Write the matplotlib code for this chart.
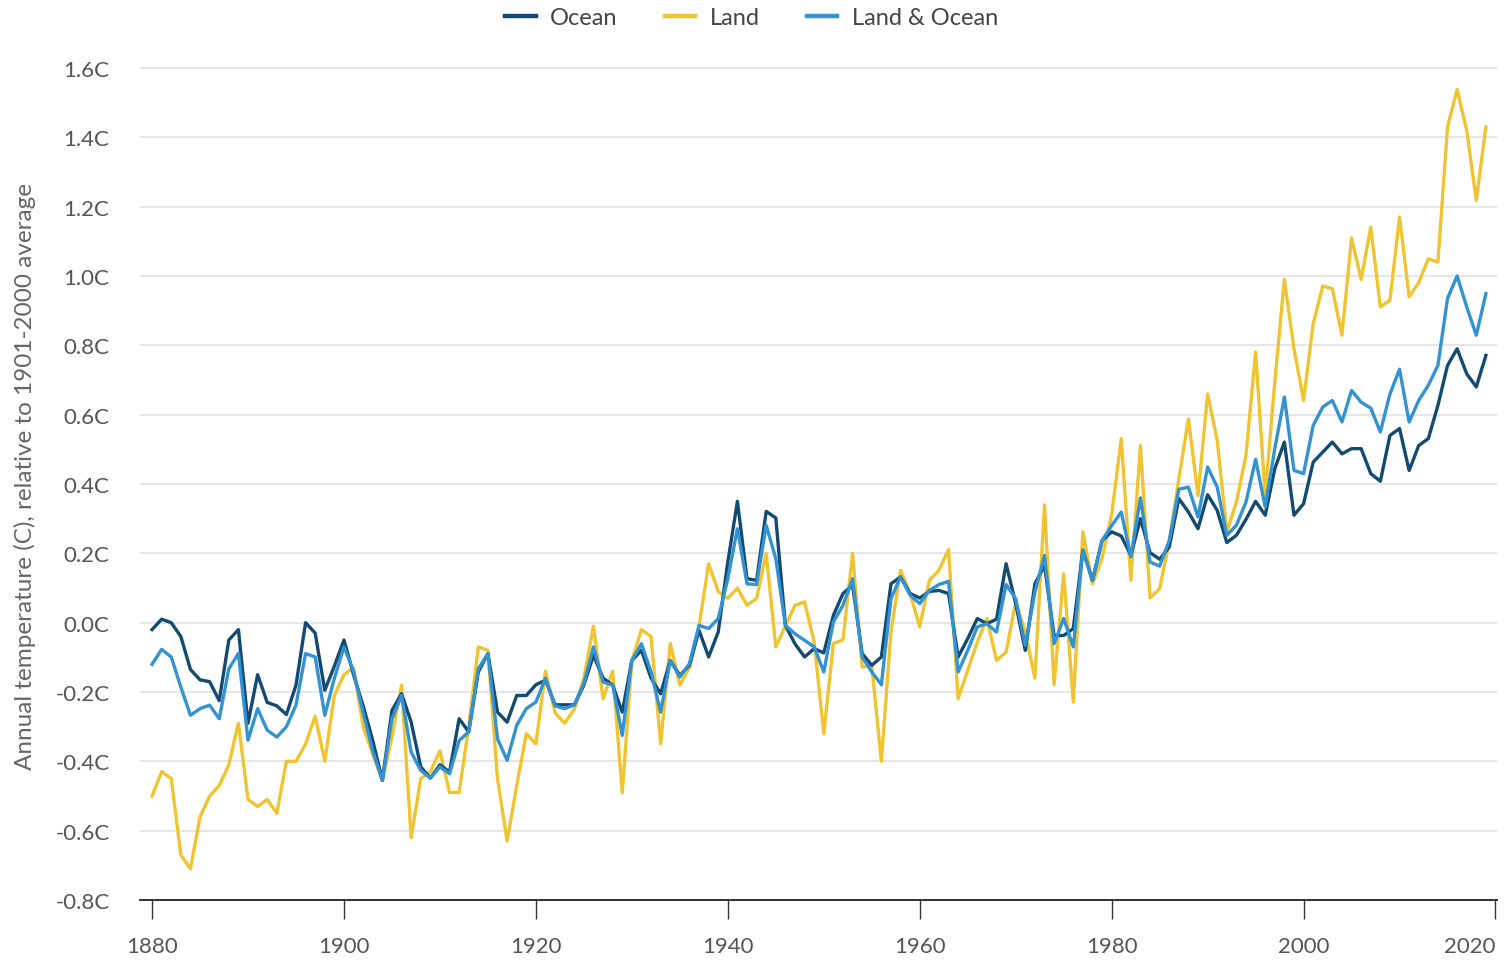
import numpy as np
import matplotlib
matplotlib.use("Agg")
import matplotlib.pyplot as plt

# annual anomalies, 1880-2019, relative to 1901-2000 average
years = np.arange(1880, 2020)

ocean = [
    -0.02, 0.01, 0.00, -0.04, -0.135, -0.165, -0.17, -0.225, -0.05, -0.02,
    -0.29, -0.15, -0.23, -0.24, -0.265, -0.18, 0.00, -0.03, -0.195, -0.125,
    -0.05, -0.15, -0.24, -0.34, -0.455, -0.253, -0.205, -0.287, -0.416, -0.448,
    -0.41, -0.431, -0.277, -0.315, -0.142, -0.089, -0.258, -0.287, -0.21, -0.21,
    -0.179, -0.166, -0.237, -0.237, -0.237, -0.18, -0.094, -0.16, -0.18, -0.258,
    -0.109, -0.08, -0.16, -0.205, -0.109, -0.152, -0.123, -0.022, -0.099, -0.027,
    0.175, 0.35, 0.127, 0.122, 0.321, 0.302, -0.008, -0.061, -0.099, -0.075,
    -0.087, 0.021, 0.084, 0.108, -0.089, -0.123, -0.099, 0.112, 0.132, 0.084,
    0.071, 0.09, 0.093, 0.084, -0.099, -0.046, 0.012, -0.003, 0.01, 0.17,
    0.055, -0.08, 0.112, 0.165, -0.037, -0.037, -0.017, 0.209, 0.122, 0.237,
    0.262, 0.25, 0.194, 0.30, 0.202, 0.183, 0.218, 0.358, 0.319, 0.271,
    0.369, 0.324, 0.231, 0.252, 0.298, 0.35, 0.31, 0.444, 0.521, 0.31,
    0.343, 0.463, 0.492, 0.521, 0.487, 0.502, 0.502, 0.43, 0.408, 0.54,
    0.56, 0.439, 0.511, 0.531, 0.627, 0.742, 0.79, 0.718, 0.68, 0.771,
]

land = [
    -0.50, -0.43, -0.45, -0.67, -0.71, -0.56, -0.50, -0.47, -0.41, -0.29,
    -0.51, -0.53, -0.51, -0.55, -0.40, -0.40, -0.35, -0.27, -0.40, -0.21,
    -0.15, -0.13, -0.30, -0.38, -0.455, -0.33, -0.18, -0.62, -0.45, -0.43,
    -0.37, -0.49, -0.49, -0.30, -0.07, -0.08, -0.45, -0.63, -0.47, -0.32,
    -0.35, -0.14, -0.26, -0.29, -0.25, -0.16, -0.01, -0.22, -0.14, -0.49,
    -0.11, -0.02, -0.04, -0.35, -0.06, -0.18, -0.13, -0.01, 0.17, 0.09,
    0.07, 0.10, 0.05, 0.07, 0.20, -0.07, -0.01, 0.05, 0.06, -0.056,
    -0.32, -0.06, -0.05, 0.20, -0.128, -0.123, -0.40, -0.027, 0.151, 0.084,
    -0.012, 0.122, 0.151, 0.211, -0.219, -0.137, -0.056, 0.012, -0.109, -0.085,
    0.06, -0.027, -0.16, 0.34, -0.179, 0.141, -0.229, 0.262, 0.112, 0.185,
    0.312, 0.531, 0.122, 0.511, 0.071, 0.098, 0.233, 0.415, 0.588, 0.367,
    0.66, 0.526, 0.262, 0.348, 0.483, 0.781, 0.367, 0.694, 0.99, 0.79,
    0.641, 0.862, 0.971, 0.963, 0.829, 1.11, 0.99, 1.141, 0.911, 0.93,
    1.17, 0.94, 0.981, 1.05, 1.04, 1.43, 1.538, 1.42, 1.218, 1.43,
]

land_ocean = [
    -0.12, -0.077, -0.099, -0.186, -0.267, -0.248, -0.238, -0.277, -0.133, -0.089,
    -0.339, -0.248, -0.31, -0.33, -0.30, -0.238, -0.089, -0.099, -0.267, -0.16,
    -0.07, -0.14, -0.26, -0.37, -0.455, -0.277, -0.21, -0.373, -0.426, -0.448,
    -0.416, -0.436, -0.34, -0.315, -0.133, -0.089, -0.335, -0.397, -0.296, -0.248,
    -0.229, -0.16, -0.24, -0.248, -0.237, -0.175, -0.07, -0.171, -0.18, -0.325,
    -0.109, -0.061, -0.142, -0.258, -0.109, -0.157, -0.118, -0.008, -0.017, 0.012,
    0.127, 0.271, 0.112, 0.11, 0.281, 0.185, -0.008, -0.032, -0.051, -0.07,
    -0.142, 0.002, 0.05, 0.127, -0.099, -0.142, -0.179, 0.069, 0.132, 0.079,
    0.055, 0.093, 0.11, 0.119, -0.142, -0.08, -0.012, -0.003, -0.027, 0.11,
    0.069, -0.065, 0.088, 0.194, -0.061, 0.012, -0.07, 0.209, 0.122, 0.237,
    0.28, 0.319, 0.19, 0.36, 0.175, 0.163, 0.237, 0.385, 0.391, 0.305,
    0.449, 0.391, 0.252, 0.281, 0.348, 0.471, 0.334, 0.502, 0.651, 0.439,
    0.43, 0.569, 0.622, 0.641, 0.579, 0.67, 0.636, 0.619, 0.55, 0.66,
    0.731, 0.579, 0.641, 0.685, 0.742, 0.935, 1.0, 0.911, 0.829, 0.949,
]

x_ticks = [1880, 1900, 1920, 1940, 1960, 1980, 2000, 2020]
y_ticks = [-0.8, -0.6, -0.4, -0.2, 0.0, 0.2, 0.4, 0.6, 0.8, 1.0, 1.2, 1.4, 1.6]
y_labels = ["%.1fC" % v for v in y_ticks]

plt.rcParams['font.family'] = ['Lato', 'DejaVu Sans']

fig = plt.figure(figsize=(15.06, 9.62), dpi=100)
ax = fig.add_axes([0.093, 0.0634, 0.9013, 0.8829])

ax.plot(years, ocean, color='#134a72', lw=2.4, label='Ocean', zorder=3)
ax.plot(years, land, color='#f0c431', lw=2.4, label='Land', zorder=2)
ax.plot(years, land_ocean, color='#3392d1', lw=2.4, label='Land & Ocean', zorder=4)

ax.set_xlim(1878.75, 2020.2)
ax.set_ylim(-0.8, 1.65)
ax.set_xticks(x_ticks)
ax.set_yticks(y_ticks)
ax.set_yticklabels(y_labels)
ax.grid(axis='y', color='#e4e4e4', lw=1.3)
ax.set_axisbelow(True)

for s in ['top', 'right', 'left']:
    ax.spines[s].set_visible(False)
ax.spines['bottom'].set_color('#333333')
ax.spines['bottom'].set_linewidth(1.4)
ax.spines['bottom'].set_zorder(5)

ax.tick_params(axis='x', length=14, width=1, color='#333333', pad=12,
               labelsize=16, labelcolor='#555555')
ax.tick_params(axis='y', length=0, pad=22, labelsize=16, labelcolor='#555555')
# last year label pulled inside the figure, as in the original
ax.get_xticklabels()[-1].set_horizontalalignment('right')
ax.get_xticklabels()[-1].set_x(2020.2)

ax.set_ylabel('Annual temperature (C), relative to 1901-2000 average',
              fontsize=17.5, color='#666666', labelpad=14)

leg = fig.legend(loc='center', bbox_to_anchor=(0.499, 0.981), ncol=3, frameon=False,
                 fontsize=17, handlelength=1.3, handletextpad=0.6, columnspacing=2.0,
                 labelcolor='#444444')
for h in leg.legend_handles:
    h.set_linewidth(3.2)

fig.savefig('out.png', dpi=100)
